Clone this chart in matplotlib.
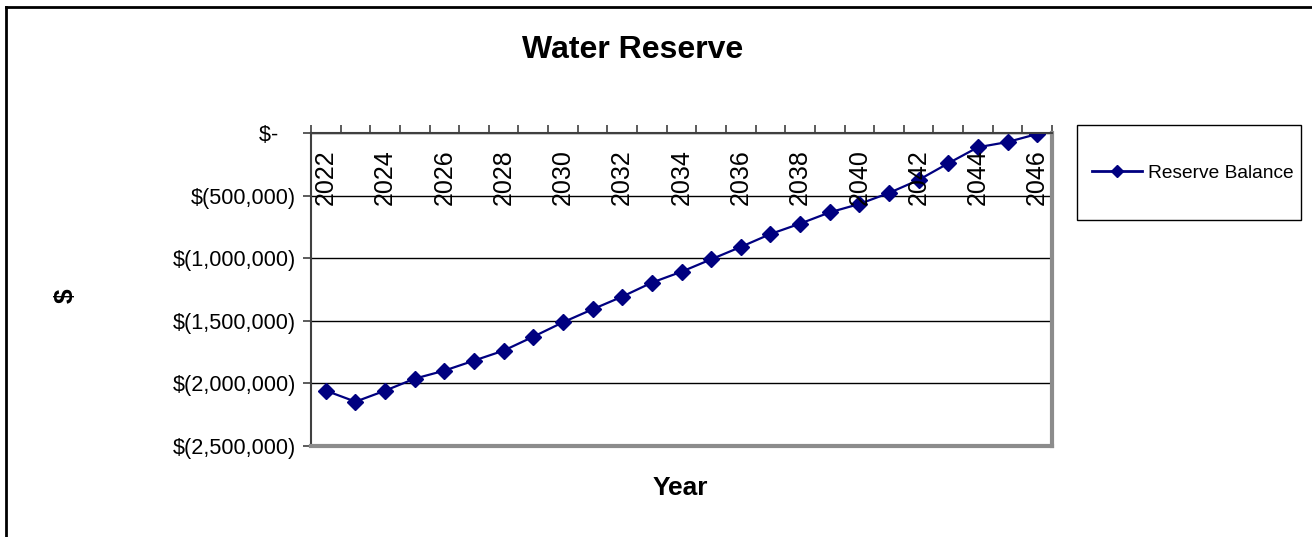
import matplotlib
matplotlib.use('Agg')
import matplotlib.pyplot as plt
from matplotlib.ticker import FuncFormatter, MultipleLocator
from matplotlib.lines import Line2D
from matplotlib.patches import Rectangle

plt.rcParams['font.family'] = ['Liberation Sans', 'DejaVu Sans']

# data
years = [2022, 2023, 2024, 2025, 2026, 2027, 2028, 2029, 2030, 2031, 2032, 2033,
         2034, 2035, 2036, 2037, 2038, 2039, 2040, 2041, 2042, 2043, 2044, 2045, 2046]
reserve_balance = [-2058000, -2146000, -2058000, -1962000, -1898000, -1818000,
                   -1738000, -1627000, -1512000, -1408000, -1307000, -1195000,
                   -1108000, -1009000, -910000, -807000, -724000, -634000,
                   -567000, -479000, -375000, -242000, -114000, -72000, -8000]
label_years = years[::2]


def money(v, pos):
    # accounting style, zero shown as a dash padded like Excel
    if v == 0:
        return '$-   '
    if v < 0:
        return '$({:,.0f})'.format(-v)
    return '${:,.0f}'.format(v)


fig = plt.figure(figsize=(13.12, 5.37), dpi=100)
ax = fig.add_axes([311 / 1312, 1 - 446 / 537, 741 / 1312, 313 / 537])

ax.plot(years, reserve_balance, color='#000080', linewidth=1.6,
        marker='D', markersize=8, label='Reserve Balance')

ax.set_xlim(years[0] - 0.5, years[-1] + 0.5)
ax.set_ylim(-2500000, 0)
ax.yaxis.set_major_locator(MultipleLocator(500000))
ax.yaxis.set_major_formatter(FuncFormatter(money))
ax.grid(axis='y', color='black', linewidth=1)
ax.set_axisbelow(True)

# category axis sits on the top edge, ticks between categories
ax.xaxis.set_ticks_position('top')
ax.set_xticks([y - 0.5 for y in years] + [years[-1] + 0.5])
ax.tick_params(axis='x', direction='out', length=6, width=1.2, color='#404040',
               labeltop=False, labelbottom=False)
for yr in label_years:
    ax.text(yr, 1 - 16 / 313, str(yr), transform=ax.get_xaxis_transform(),
            rotation=90, ha='center', va='top', fontsize=18)

ax.tick_params(axis='y', direction='out', length=6, width=1.2, color='#404040',
               labelsize=15.6, pad=4.5)

for side in ['left', 'top']:
    ax.spines[side].set_color('#404040')
    ax.spines[side].set_linewidth(1.5)
for side in ['right', 'bottom']:
    ax.spines[side].set_color('#8c8c8c')
    ax.spines[side].set_linewidth(3)

fig.text(633 / 1312, 1 - 50 / 537, 'Water Reserve', ha='center', va='center',
         fontsize=23, fontweight='bold')
fig.text(680 / 1312, 1 - 488 / 537, 'Year', ha='center', va='center',
         fontsize=19, fontweight='bold')
fig.text(66 / 1312, 1 - 296 / 537, '$', ha='center', va='center',
         rotation=90, fontsize=19, fontweight='bold')

# legend box
fig.patches.append(Rectangle((1077 / 1312, 1 - 220 / 537), 224 / 1312, 95 / 537,
                             transform=fig.transFigure, fill=False,
                             edgecolor='black', linewidth=1))
leg = fig.legend(loc='center left', bbox_to_anchor=(1092 / 1312, 1 - 173 / 537),
                 frameon=False, fontsize=13.8, handlelength=2.6, handletextpad=0.3,
                 borderpad=0, borderaxespad=0, markerscale=0.8)
for h in leg.legend_handles:
    h.set_linewidth(2)

# outer chart border (top and left visible)
fig.add_artist(Line2D([6 / 1312, 1], [1 - 7 / 537, 1 - 7 / 537],
                      transform=fig.transFigure, color='black', linewidth=2))
fig.add_artist(Line2D([6 / 1312, 6 / 1312], [0, 1 - 7 / 537],
                      transform=fig.transFigure, color='black', linewidth=2))

fig.savefig('out.png', dpi=100, facecolor='white')
